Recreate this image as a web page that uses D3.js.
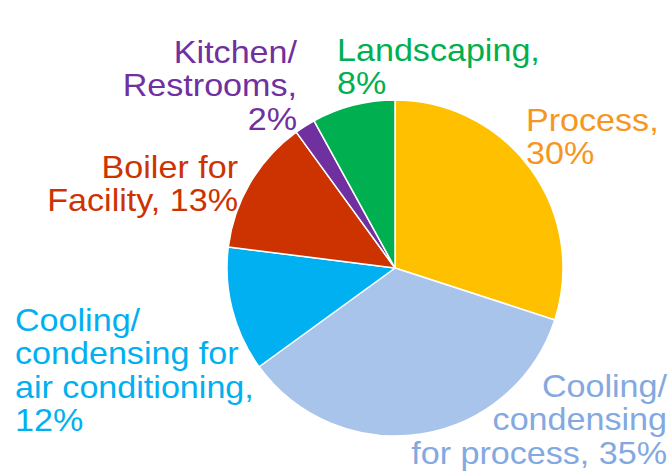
<!DOCTYPE html>
<html>
<head>
<meta charset="utf-8">
<script src="https://cdn.jsdelivr.net/npm/d3@7"></script>
<style>
  html, body { margin: 0; padding: 0; background: #ffffff; }
  svg { display: block; }
  text { font-family: "Liberation Sans", Arial, sans-serif; }
</style>
</head>
<body>
<svg id="chart" width="671" height="474"></svg>
<script>
// Water use by end use (percent of total), clockwise from 12 o'clock.
// "\n" marks where a name wraps onto a new line in its label.
const categories = [
  "Process",
  "Cooling/\ncondensing\nfor process",
  "Cooling/\ncondensing for\nair conditioning",
  "Boiler for\nFacility",
  "Kitchen/\nRestrooms",
  "Landscaping"
];
const shares = [30, 35, 12, 13, 2, 8];
// whether the percentage sits on its own line below the name
const valueOnOwnLine = [true, false, true, false, true, true];
const sliceColors = ["#FFC000", "#A9C4EB", "#00B0F0", "#CC3300", "#7030A0", "#00B050"];
const labelColors = ["#F7961E", "#83A9E0", "#00B0F0", "#CC3300", "#7030A0", "#00B050"];

// Label placement relative to the pie centre: first-line baseline and alignment.
const labelSpots = [
  { dx: 131,  dy: -137, anchor: "start" },
  { dx: 272,  dy: 129,  anchor: "end" },
  { dx: -380, dy: 63,   anchor: "start" },
  { dx: -157, dy: -90,  anchor: "end" },
  { dx: -98,  dy: -205, anchor: "end" },
  { dx: -58,  dy: -207, anchor: "start" }
];

const svg = d3.select("#chart");
const cx = 395, cy = 268, radius = 168;
// labels use a slightly wide face: narrow font size, stretched horizontally
const fontSize = 31, stretchX = 1.1, lineHeight = 33.5;

const g = svg.append("g").attr("transform", `translate(${cx},${cy})`);

const pie = d3.pie().sort(null).value(d => d.value);
const arc = d3.arc().innerRadius(0).outerRadius(radius);

const rows = categories.map((name, i) => ({
  name, value: shares[i], i
}));

g.selectAll("path.slice")
  .data(pie(rows))
  .join("path")
  .attr("class", "slice")
  .attr("d", arc)
  .attr("fill", d => sliceColors[d.data.i])
  .attr("stroke", "#ffffff")
  .attr("stroke-width", 1.5)
  .attr("stroke-linejoin", "round");

const labels = g.selectAll("text.label")
  .data(rows)
  .join("text")
  .attr("class", "label")
  .attr("transform", d => `translate(${labelSpots[d.i].dx},${labelSpots[d.i].dy}) scale(${stretchX},1)`)
  .attr("text-anchor", d => labelSpots[d.i].anchor)
  .attr("fill", d => labelColors[d.i])
  .attr("font-size", fontSize);

labels.each(function (d) {
  const full = d.name + "," + (valueOnOwnLine[d.i] ? "\n" : " ") + d.value + "%";
  const lines = full.split("\n");
  const t = d3.select(this);
  lines.forEach((line, k) => {
    t.append("tspan")
      .attr("x", 0)
      .attr("dy", k === 0 ? 0 : lineHeight)
      .text(line);
  });
});
</script>
</body>
</html>
